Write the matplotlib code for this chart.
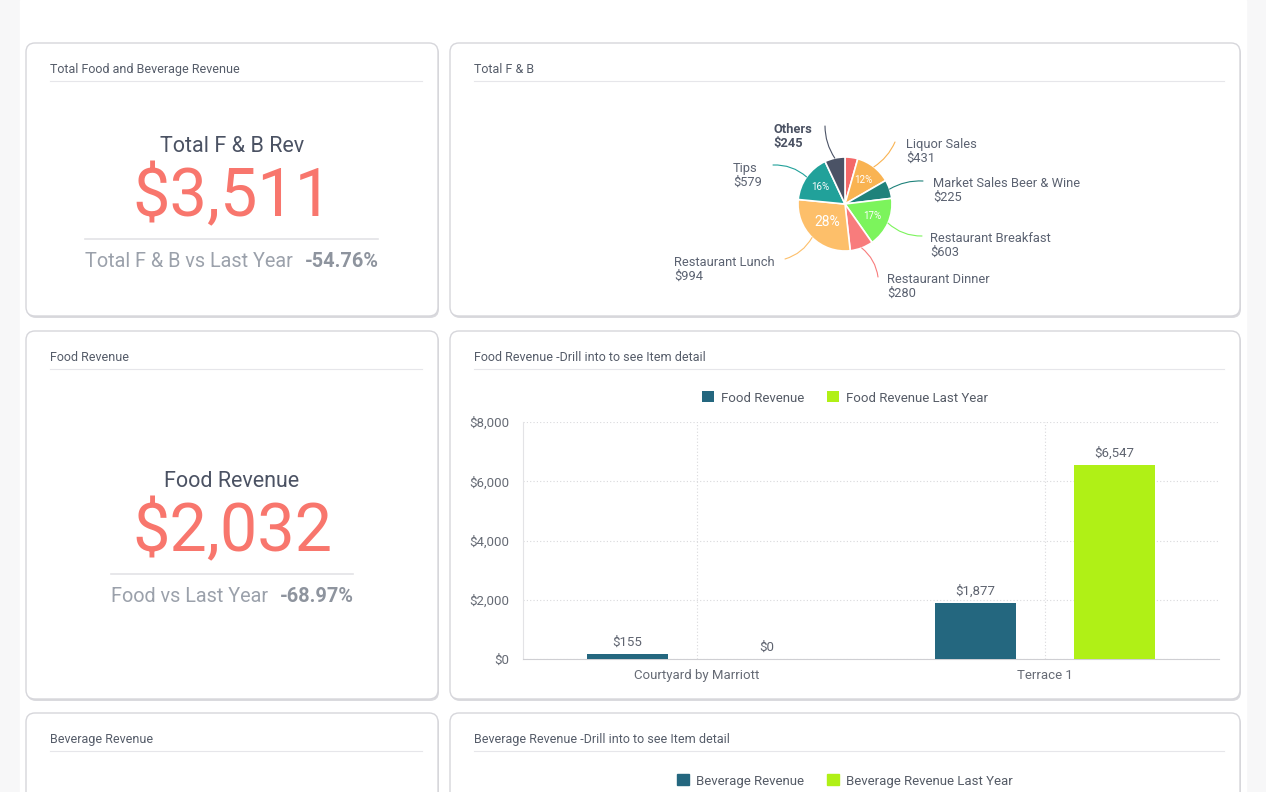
import numpy as np
import matplotlib.pyplot as plt
from matplotlib.patches import FancyBboxPatch, Rectangle, Patch

plt.rcParams['font.family'] = ['Roboto', 'DejaVu Sans']
plt.rcParams['text.parse_math'] = False

W, H = 1266, 792

# ---- data ----
fb_total = 3511
fb_vs_ly = -54.76
food_total = 2032
food_vs_ly = -68.97

pie_labels = ['', 'Liquor Sales', 'Market Sales Beer & Wine', 'Restaurant Breakfast',
              'Restaurant Dinner', 'Restaurant Lunch', 'Tips', 'Others']
pie_values = [154, 431, 225, 603, 280, 994, 579, 245]
pie_colors = ['#f46868', '#f9b352', '#1f827b', '#7cf45c', '#f87c7c', '#fdbf6a', '#21a19a', '#4b5366']

food_outlets = ['Courtyard by Marriott', 'Terrace 1']
food_rev = [155, 1877]
food_rev_ly = [0, 6547]

bev_series = ['Beverage Revenue', 'Beverage Revenue Last Year']

c_now = '#24677f'
c_ly = '#b0f016'
red = '#f8766d'
dark = '#4b5263'
grey = '#9ba1ab'

fig = plt.figure(figsize=(W / 100, H / 100), dpi=100)
fig.patch.set_facecolor('#f7f7f8')
bg = fig.add_axes([0, 0, 1, 1])
bg.set_xlim(0, W)
bg.set_ylim(H, 0)
bg.axis('off')
bg.add_patch(Rectangle((20, 0), 1226, H, color='white', zorder=0))


def card(x0, y0, x1, y1, title):
    bg.add_patch(FancyBboxPatch((x0 + 1, y0 + 2), x1 - x0, y1 - y0,
                                boxstyle='round,pad=0,rounding_size=9',
                                fc='#dadade', ec='none', zorder=1))
    bg.add_patch(FancyBboxPatch((x0, y0), x1 - x0, y1 - y0,
                                boxstyle='round,pad=0,rounding_size=9',
                                fc='white', ec='#d6d6db', lw=1, zorder=2))
    bg.text(x0 + 24, y0 + 30, title, fontsize=9, color='#555c69', va='baseline', zorder=3)
    bg.plot([x0 + 24, x1 - 16], [y0 + 38, y0 + 38], color='#e6e6ea', lw=0.8, zorder=3)


card(26, 43, 438, 316, 'Total Food and Beverage Revenue')
card(450, 43, 1240, 316, 'Total F & B')
card(26, 331, 438, 699, 'Food Revenue')
card(450, 331, 1240, 699, 'Food Revenue -Drill into to see Item detail')
card(26, 713, 438, 840, 'Beverage Revenue')
card(450, 713, 1240, 840, 'Beverage Revenue -Drill into to see Item detail')

# ---- KPI cards ----
def kpi(label, value, sub, pct, yb, x_split, line_x):
    bg.text(232, yb, label, fontsize=15.5, color=dark, ha='center', va='baseline', zorder=4)
    bg.text(232, yb + 64, f'${value:,}', fontsize=48, color=red, ha='center', va='baseline', zorder=4)
    bg.plot(line_x, [yb + 87, yb + 87], color='#e3e3e6', lw=1.2, zorder=4)
    bg.text(x_split, yb + 115, sub, fontsize=14.3, color=grey, ha='right', va='baseline', zorder=4)
    bg.text(x_split + 12, yb + 115, f'{pct:.2f}%', fontsize=14.3, color='#8e949e',
            fontweight='bold', ha='left', va='baseline', zorder=4)


kpi('Total F & B Rev', fb_total, 'Total F & B vs Last Year', fb_vs_ly, 152, 293, [85, 378])
kpi('Food Revenue', food_total, 'Food vs Last Year', food_vs_ly, 487, 268, [111, 353])

# ---- pie ----
cx, cy, r = 845, 204, 47
pax = fig.add_axes([660 / W, 1 - 310 / H, 440 / W, 200 / H])
wedges, _, autotexts = pax.pie(pie_values, colors=pie_colors, startangle=90, counterclock=False,
                               radius=r, autopct=lambda p: f'{p:.0f}%' if p >= 10 else '',
                               pctdistance=0.64,
                               wedgeprops=dict(edgecolor='white', linewidth=1.2),
                               textprops=dict(color='white', fontsize=7))
for t, v in zip(autotexts, pie_values):
    if v == max(pie_values):
        t.set_fontsize(10)
        t.set_position(np.array(t.get_position()) * 0.82)
pax.set_xlim(660 - cx, 1100 - cx)
pax.set_ylim(cy - 310, cy - 110)
pax.set_aspect('auto')
pax.axis('off')

# label layout: text left/top, connector end, curvature
pie_layout = {
    'Others': (773, 123, 825, 126, 0.15),
    'Liquor Sales': (906, 138, 895, 142, -0.15),
    'Market Sales Beer & Wine': (933, 177, 923, 181, 0.15),
    'Restaurant Breakfast': (930, 232, 922, 236, -0.2),
    'Restaurant Dinner': (887, 273, 878, 277, 0.2),
    'Restaurant Lunch': (674, 256, 785, 259, 0.2),
    'Tips': (733, 162, 773, 165, -0.2),
}
for w, name, val, col in zip(wedges, pie_labels, pie_values, pie_colors):
    if not name:
        continue
    tx, ty, lx, ly, rad = pie_layout[name]
    ang = np.deg2rad((w.theta1 + w.theta2) / 2)
    pax.annotate('', xy=(r * np.cos(ang), r * np.sin(ang)), xytext=(lx - cx, cy - ly),
                 arrowprops=dict(arrowstyle='-', color=col, lw=0.8, shrinkA=0, shrinkB=0,
                                 connectionstyle=f'arc3,rad={rad}'))
    bold = name == 'Others'
    pax.text(tx - cx, cy - ty, f'{name}\n${val:,}', ha='left', va='top', fontsize=9.3,
             color=dark if bold else '#5b6271', fontweight='bold' if bold else 'normal',
             linespacing=1.12, clip_on=False)

# ---- food bar chart ----
bax = fig.add_axes([523 / W, 1 - 659 / H, (1219 - 523) / W, (659 - 422) / H])
x = np.arange(len(food_outlets))
b1 = bax.bar(x - 0.2, food_rev, width=0.233, color=c_now, label='Food Revenue', zorder=3)
b2 = bax.bar(x + 0.2, food_rev_ly, width=0.233, color=c_ly, label='Food Revenue Last Year', zorder=3)
for bars in (b1, b2):
    bax.bar_label(bars, fmt=lambda v: f'${v:,.0f}', padding=4, fontsize=9.5, color='#5f6470')
bax.set_xlim(-0.5, 1.5)
bax.set_ylim(0, 8000)
bax.set_yticks([0, 2000, 4000, 6000, 8000])
bax.yaxis.set_major_formatter(lambda v, p: f'${v:,.0f}')
bax.set_xticks(x, food_outlets)
bax.grid(True, linestyle=(0, (1, 2)), color='#d9d9dc', lw=0.8, zorder=0)
bax.tick_params(length=0, labelsize=9.5, labelcolor='#666b75')
bax.tick_params(axis='y', pad=10)
bax.tick_params(axis='x', pad=7)
for s in ('top', 'right'):
    bax.spines[s].set_visible(False)
bax.spines['left'].set_color('#e3e3e6')
bax.spines['bottom'].set_color('#cfcfd3')
bax.legend(loc='center', bbox_to_anchor=((845 - 523) / 696, (659 - 398) / 237), ncol=2,
           frameon=False, fontsize=9.5, handlelength=0.9, handleheight=0.9,
           handletextpad=0.55, columnspacing=1.7, labelcolor='#555b66')

# ---- beverage legend (chart cut off at bottom) ----
fig.legend(handles=[Patch(color=c_now, label=bev_series[0]), Patch(color=c_ly, label=bev_series[1])],
           loc='center', bbox_to_anchor=(845 / W, 1 - 781 / H), ncol=2, frameon=False,
           fontsize=9.5, handlelength=0.9, handleheight=0.9, handletextpad=0.55,
           columnspacing=1.7, labelcolor='#555b66')

fig.savefig('out.png', dpi=100, facecolor=fig.get_facecolor())
